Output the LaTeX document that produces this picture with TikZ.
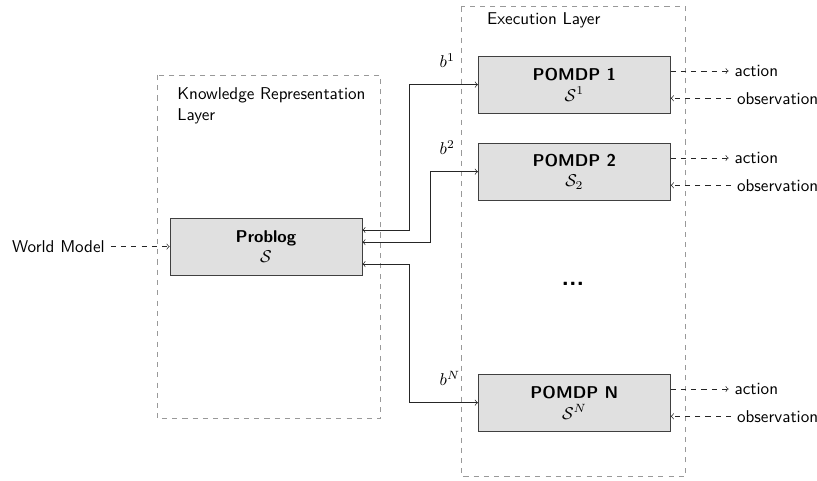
\documentclass[tikz,border=0pt]{standalone}
\usepackage{amsmath}
\usepackage{amssymb}
\usetikzlibrary{arrows,calc,positioning}
\renewcommand{\familydefault}{\sfdefault}

\tikzset{
    block/.style={draw=black!75,fill=black!12,minimum width=3.95cm,minimum height=1.17cm,align=center},
    layer/.style={draw=black!40,dashed},
    io/.style={dashed,->,black!85},
    link/.style={<->,black!85}
}

\begin{document}
\begin{tikzpicture}
    \useasboundingbox (0,0) rectangle (16.80,-9.89);

    % the two layers
    \draw[layer] (3.23,-1.54) rectangle (7.83,-8.61);
    \draw[layer] (9.48,-0.14) rectangle (14.10,-9.79);
    \node[anchor=north west,inner sep=0,align=left] (krtitle) at (3.64,-1.80)
        {Knowledge Representation\\Layer};
    \node[anchor=west,inner sep=0] (extitle) at (10.01,-0.41) {Execution Layer};

    % blocks
    \node[block] (problog) at (5.47,-5.07) {\textbf{Problog}\\$\mathcal{S}$};
    \node[block] (p1) at (11.81,-1.74) {\textbf{POMDP 1}\\$\mathcal{S}^1$};
    \node[block] (p2) at (11.81,-3.53) {\textbf{POMDP 2}\\$\mathcal{S}_2$};
    \node[block] (pn) at (11.81,-8.28) {\textbf{POMDP N}\\$\mathcal{S}^N$};
    \node (dots) at (11.78,-5.84) {\Large\textbf{...}};

    % input from the world model
    \node[left=1.21cm of problog] (wm) {World Model};
    \draw[io] (wm) -- (problog);

    % beliefs between problog and the pomdps
    \draw[link] ([yshift=0.34cm]problog.east) -| ([xshift=-1.42cm]p1.west) -- (p1.west);
    \draw[link] ([yshift=0.09cm]problog.east) -| ([xshift=-0.97cm]p2.west) -- (p2.west);
    \draw[link] ([yshift=-0.36cm]problog.east) -| ([xshift=-1.42cm]pn.west) -- (pn.west);
    \node[anchor=west] (b1) at ([shift={(-0.91,0.50)}]p1.west) {$b^1$};
    \node[anchor=west] (b2) at ([shift={(-0.91,0.50)}]p2.west) {$b^2$};
    \node[anchor=west] (bn) at ([shift={(-0.91,0.50)}]pn.west) {$b^N$};

    % actions and observations
    \node[right=1.19cm of p1.east,yshift=0.28cm] (act1) {action};
    \node[right=1.24cm of p1.east,yshift=-0.28cm] (obs1) {observation};
    \node[right=1.19cm of p2.east,yshift=0.28cm] (act2) {action};
    \node[right=1.24cm of p2.east,yshift=-0.28cm] (obs2) {observation};
    \node[right=1.19cm of pn.east,yshift=0.28cm] (actn) {action};
    \node[right=1.24cm of pn.east,yshift=-0.28cm] (obsn) {observation};

    \draw[io] (p1.east |- act1.west) -- (act1.west);
    \draw[io] (obs1.west) -- (p1.east |- obs1.west);
    \draw[io] (p2.east |- act2.west) -- (act2.west);
    \draw[io] (obs2.west) -- (p2.east |- obs2.west);
    \draw[io] (pn.east |- actn.west) -- (actn.west);
    \draw[io] (obsn.west) -- (pn.east |- obsn.west);
\end{tikzpicture}
\end{document}
